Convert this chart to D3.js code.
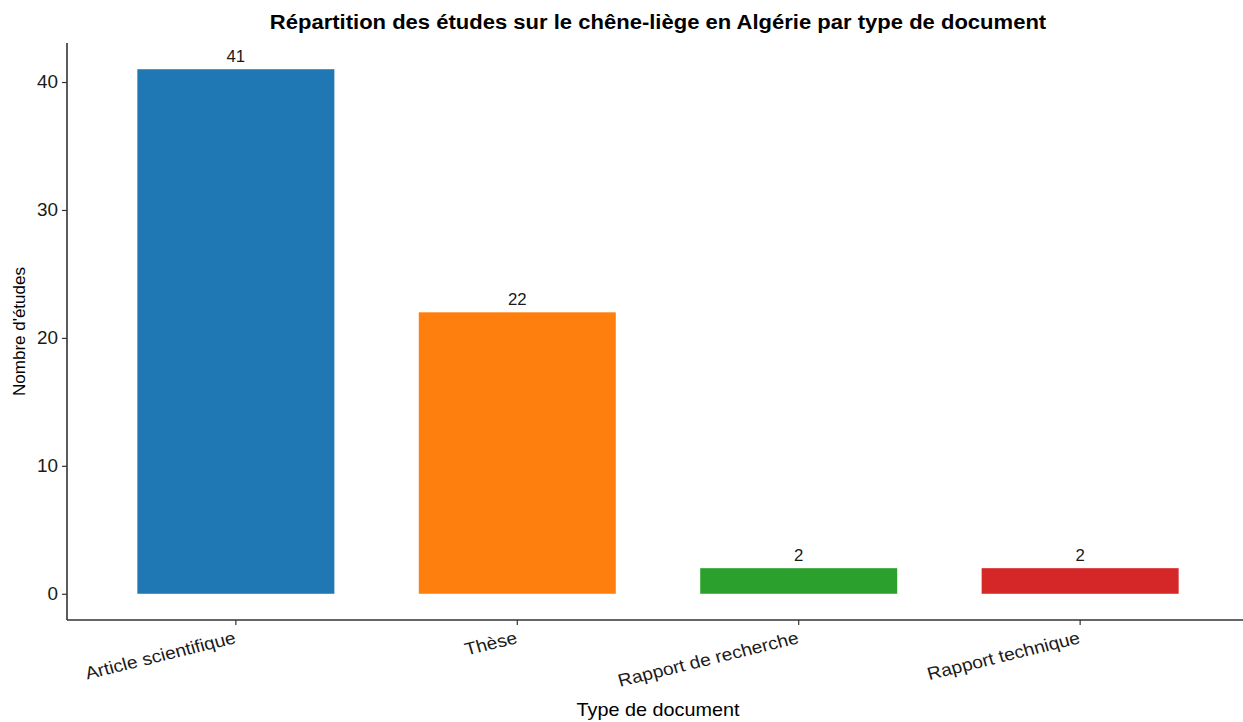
<!DOCTYPE html>
<html>
<head>
<meta charset="utf-8">
<script src="https://cdn.jsdelivr.net/npm/d3@7/dist/d3.min.js"></script>
<style>
  html, body { margin: 0; padding: 0; background: #fff; }
  svg { display: block; font-family: "Liberation Sans", Arial, sans-serif; }
</style>
</head>
<body>
<svg id="chart" width="1243" height="722"></svg>
<script>
// Studies on cork oak in Algeria, counted by document type
const categories = ["Article scientifique", "Thèse", "Rapport de recherche", "Rapport technique"];
const counts = [41, 22, 2, 2];
const colors = ["#1f77b4", "#ff7f0e", "#2ca02c", "#d62728"];
const yTicks = [0, 10, 20, 30, 40];

const titleText = "Répartition des études sur le chêne-liège en Algérie par type de document";
const xTitle = "Type de document";
const yTitle = "Nombre d'études";

const svg = d3.select("#chart");
const W = 1243, H = 722;

// panel geometry (the panel runs a little past the right edge of the canvas)
const panel = { left: 67, right: 1249, top: 43, bottom: 620 };
// horizontal text is set slightly wide
const wide = 1.1;

const x = d3.scaleBand()
  .domain(categories)
  .range([panel.left, panel.right])
  .paddingInner(0.3)
  .paddingOuter(0.25);

const yMax = d3.max(counts);
const pad = yMax * 0.05;
const y = d3.scaleLinear()
  .domain([-pad, yMax + pad])
  .range([panel.bottom, panel.top]);

const axisColor = "#333333";

// bars
svg.append("g")
  .selectAll("rect")
  .data(categories)
  .join("rect")
  .attr("x", d => x(d))
  .attr("width", x.bandwidth())
  .attr("y", (d, i) => y(counts[i]))
  .attr("height", (d, i) => y(0) - y(counts[i]))
  .attr("fill", (d, i) => colors[i]);

// value labels above bars
svg.append("g")
  .selectAll("text")
  .data(categories)
  .join("text")
  .attr("transform", (d, i) => `translate(${x(d) + x.bandwidth() / 2},${y(counts[i]) - 7}) scale(1.05,1)`)
  .attr("text-anchor", "middle")
  .attr("font-size", 16)
  .attr("fill", "#1a1a1a")
  .text((d, i) => counts[i]);

// y axis
const yAxis = d3.axisLeft(y).tickValues(yTicks).tickSize(5).tickPadding(4);
const gy = svg.append("g")
  .attr("transform", `translate(${panel.left},0)`)
  .call(yAxis);
gy.select(".domain").remove();
gy.append("line")
  .attr("x1", 0).attr("x2", 0)
  .attr("y1", panel.top).attr("y2", panel.bottom)
  .attr("stroke", axisColor).attr("stroke-width", 1.6);
gy.selectAll(".tick line").attr("stroke", axisColor).attr("stroke-width", 1.2);
gy.selectAll(".tick text")
  .attr("font-size", 18)
  .attr("font-family", "Liberation Sans, Arial, sans-serif")
  .attr("fill", "#1a1a1a")
  .attr("x", 0)
  .attr("transform", "translate(-9,0) scale(1.05,1)");

// x axis
const xAxis = d3.axisBottom(x).tickSize(5).tickPadding(4);
const gx = svg.append("g")
  .attr("transform", `translate(0,${panel.bottom})`)
  .call(xAxis);
gx.select(".domain").remove();
gx.append("line")
  .attr("x1", panel.left).attr("x2", W)
  .attr("y1", 0).attr("y2", 0)
  .attr("stroke", axisColor).attr("stroke-width", 1.6);
gx.selectAll(".tick line").attr("stroke", axisColor).attr("stroke-width", 1.2);
gx.selectAll(".tick text")
  .attr("font-size", 17.5)
  .attr("font-family", "Liberation Sans, Arial, sans-serif")
  .attr("fill", "#1a1a1a")
  .attr("text-anchor", "end")
  .attr("y", 0)
  .attr("dy", 0)
  .attr("transform", `translate(1,23) scale(${wide},1) rotate(-15)`);

// title
svg.append("text")
  .attr("transform", `translate(${(panel.left + panel.right) / 2},29) scale(1.13,1)`)
  .attr("text-anchor", "middle")
  .attr("font-size", 19.5)
  .attr("font-weight", "bold")
  .attr("fill", "#000")
  .text(titleText);

// axis titles
svg.append("text")
  .attr("transform", `translate(${(panel.left + panel.right) / 2},716) scale(${wide},1)`)
  .attr("text-anchor", "middle")
  .attr("font-size", 18)
  .attr("fill", "#000")
  .text(xTitle);

svg.append("text")
  .attr("transform", `translate(25,${(panel.top + panel.bottom) / 2}) rotate(-90)`)
  .attr("text-anchor", "middle")
  .attr("font-size", 17)
  .attr("fill", "#000")
  .text(yTitle);
</script>
</body>
</html>
